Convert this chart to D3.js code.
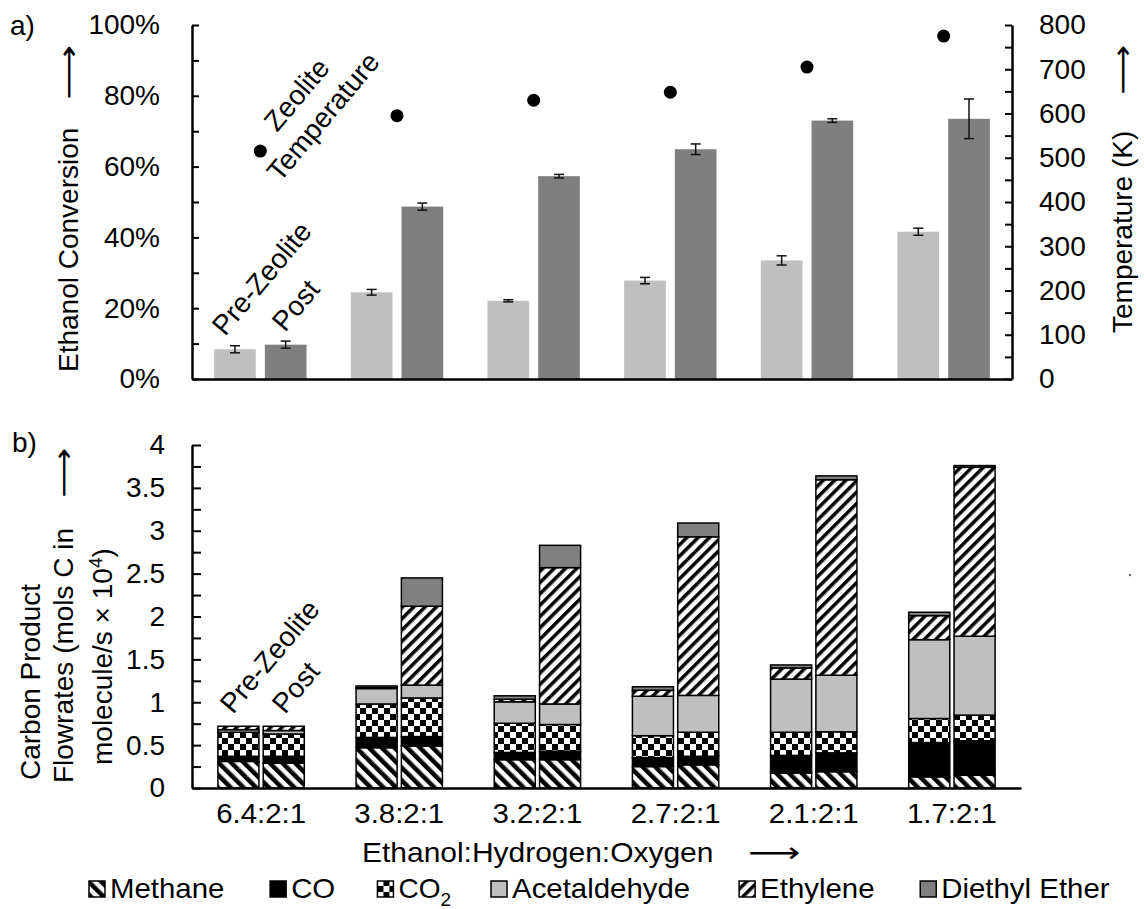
<!DOCTYPE html>
<html>
<head>
<meta charset="utf-8">
<script src="https://cdn.jsdelivr.net/npm/d3@7"></script>
<style>
  body { margin: 0; background: #fff; }
  svg { font-family: 'Liberation Sans', Arial, sans-serif; }
  .arrow { font-family: 'DejaVu Sans', sans-serif; }
</style>
</head>
<body>
<svg id="chart" width="1144" height="909"></svg>
<script>
'use strict';

/* global d3 */

var categories = ['6.4:2:1', '3.8:2:1', '3.2:2:1', '2.7:2:1', '2.1:2:1', '1.7:2:1'];

// a) ethanol conversion (%) and zeolite temperature (K)
var conversionPre = [8.4, 24.5, 22.1, 27.8, 33.5, 41.6];
var conversionPreErr = [1.0, 0.8, 0.3, 0.9, 1.3, 1.0];
var conversionPost = [9.7, 48.7, 57.3, 64.9, 73.0, 73.5];
var conversionPostErr = [1.0, 1.0, 0.5, 1.5, 0.5, 5.6];
var zeoliteTemp = [515, 595, 630, 648, 705, 775];

// b) carbon product flowrates (mols C in molecule/s x 10^4)
var productKeys = ['methane', 'co', 'co2', 'acetaldehyde', 'ethylene', 'dee'];
var productLabels = ['Methane', 'CO', 'CO2', 'Acetaldehyde', 'Ethylene', 'Diethyl Ether'];
var methanePre = [0.31, 0.47, 0.33, 0.25, 0.175, 0.13];
var methanePost = [0.29, 0.49, 0.33, 0.27, 0.19, 0.15];
var coPre = [0.06, 0.12, 0.085, 0.105, 0.205, 0.40];
var coPost = [0.08, 0.11, 0.10, 0.10, 0.22, 0.40];
var co2Pre = [0.28, 0.39, 0.34, 0.255, 0.27, 0.28];
var co2Post = [0.26, 0.45, 0.31, 0.28, 0.245, 0.30];
var acetPre = [0.03, 0.18, 0.25, 0.46, 0.62, 0.92];
var acetPost = [0.04, 0.15, 0.24, 0.43, 0.66, 0.92];
var ethylenePre = [0.04, 0.01, 0.03, 0.07, 0.13, 0.28];
var ethylenePost = [0.05, 0.92, 1.59, 1.85, 2.28, 1.97];
var deePre = [0.0, 0.02, 0.04, 0.04, 0.035, 0.04];
var deePost = [0.0, 0.33, 0.26, 0.16, 0.045, 0.02];

var convTicks = d3.range(0, 101, 10);
var tempTicks = d3.range(0, 801, 50);
var flowTicks = d3.range(0, 4.01, 0.25);

(function () {
  var svg = d3.select('#chart');
  var FS = 28;

  // patterns
  var defs = svg.append('defs');
  var pm = defs.append('pattern').attr('id', 'p-methane').attr('patternUnits', 'userSpaceOnUse')
    .attr('width', 9).attr('height', 9).attr('patternTransform', 'rotate(-45)');
  pm.append('rect').attr('width', 9).attr('height', 9).attr('fill', '#fff');
  pm.append('rect').attr('width', 4.5).attr('height', 9).attr('fill', '#000');

  var pe = defs.append('pattern').attr('id', 'p-ethylene').attr('patternUnits', 'userSpaceOnUse')
    .attr('width', 8).attr('height', 8).attr('patternTransform', 'rotate(45)');
  pe.append('rect').attr('width', 8).attr('height', 8).attr('fill', '#fff');
  pe.append('rect').attr('width', 3.5).attr('height', 8).attr('fill', '#000');

  var pc = defs.append('pattern').attr('id', 'p-co2').attr('patternUnits', 'userSpaceOnUse')
    .attr('width', 12).attr('height', 12);
  pc.append('rect').attr('width', 12).attr('height', 12).attr('fill', '#fff');
  pc.append('rect').attr('width', 6).attr('height', 6).attr('fill', '#000');
  pc.append('rect').attr('x', 6).attr('y', 6).attr('width', 6).attr('height', 6).attr('fill', '#000');

  var fills = {
    methane: 'url(#p-methane)',
    co: '#000',
    co2: 'url(#p-co2)',
    acetaldehyde: '#bfbfbf',
    ethylene: 'url(#p-ethylene)',
    dee: '#808080'
  };

  // the original figure is slightly wider than tall, so horizontal text runs a bit wide
  function widen(sel, k) {
    sel.each(function () {
      var n = this;
      d3.select(n).attr('textLength', n.getComputedTextLength() * k).attr('lengthAdjust', 'spacingAndGlyphs');
    });
  }

  function styleAxis(sel) {
    sel.select('.domain').attr('stroke', '#000').attr('stroke-width', 2.5);
    sel.selectAll('.tick line').attr('stroke', '#000').attr('stroke-width', 2);
    sel.selectAll('.tick text').attr('font-size', FS).attr('font-family', null).attr('fill', '#000');
    sel.attr('font-family', null).attr('font-size', null);
  }

  function arrow(x, y, len, rotate) {
    return svg.append('text').attr('class', 'arrow')
      .attr('transform', 'translate(' + x + ',' + y + ')' + (rotate ? ' rotate(-90)' : ''))
      .attr('font-size', FS).attr('textLength', len).attr('lengthAdjust', 'spacingAndGlyphs')
      .text('\u27F6');
  }

  // ---------- a) ----------
  var xa = d3.scaleBand().domain(categories).range([192, 1012]).paddingInner(0.324).paddingOuter(0.162);
  var xaSub = d3.scaleBand().domain(['pre', 'post']).range([0, xa.bandwidth()]).paddingInner(0.178);
  var ya = d3.scaleLinear().domain([0, 100]).range([379, 25]);
  var yt = d3.scaleLinear().domain([0, 800]).range([379, 25]);

  var convRows = [];
  categories.forEach(function (c, i) {
    convRows.push({ cat: c, phase: 'pre', v: conversionPre[i], e: conversionPreErr[i] });
    convRows.push({ cat: c, phase: 'post', v: conversionPost[i], e: conversionPostErr[i] });
  });

  var ga = svg.append('g');
  ga.append('g').selectAll('rect').data(convRows).enter().append('rect')
    .attr('x', function (d) { return xa(d.cat) + xaSub(d.phase); })
    .attr('width', xaSub.bandwidth())
    .attr('y', function (d) { return ya(d.v); })
    .attr('height', function (d) { return ya(0) - ya(d.v); })
    .attr('fill', function (d) { return d.phase === 'pre' ? '#bfbfbf' : '#7f7f7f'; });

  var eb = ga.append('g').attr('stroke', '#111').attr('stroke-width', 1.5)
    .selectAll('g').data(convRows).enter().append('g')
    .attr('transform', function (d) { return 'translate(' + (xa(d.cat) + xaSub(d.phase) + xaSub.bandwidth() / 2) + ',0)'; });
  eb.append('line').attr('y1', function (d) { return ya(d.v - d.e); }).attr('y2', function (d) { return ya(d.v + d.e); });
  eb.append('line').attr('x1', -5).attr('x2', 5)
    .attr('y1', function (d) { return ya(d.v - d.e); }).attr('y2', function (d) { return ya(d.v - d.e); });
  eb.append('line').attr('x1', -5).attr('x2', 5)
    .attr('y1', function (d) { return ya(d.v + d.e); }).attr('y2', function (d) { return ya(d.v + d.e); });

  ga.append('g').selectAll('circle').data(categories).enter().append('circle')
    .attr('cx', function (d) { return xa(d) + xa.bandwidth() / 2; })
    .attr('cy', function (d, i) { return yt(zeoliteTemp[i]); })
    .attr('r', 6.5).attr('fill', '#000');

  ga.append('g').attr('transform', 'translate(0,379)')
    .call(d3.axisBottom(xa).tickSize(0).tickFormat(''))
    .call(styleAxis);
  ga.append('g').attr('transform', 'translate(192,0)')
    .call(d3.axisLeft(ya).tickValues(convTicks).tickSizeInner(-7).tickSizeOuter(0).tickPadding(32)
      .tickFormat(function (d) { return d % 20 === 0 ? d + '%' : ''; }))
    .call(styleAxis);
  ga.append('g').attr('transform', 'translate(1012,0)')
    .call(d3.axisRight(yt).tickValues(tempTicks).tickSizeInner(-7).tickSizeOuter(0).tickPadding(27)
      .tickFormat(function (d) { return d % 100 === 0 ? d : ''; }))
    .call(styleAxis);

  // annotations a)
  function rotLabel(x, y, txt) {
    svg.append('text').attr('transform', 'translate(' + x + ',' + y + ') rotate(-50)')
      .attr('font-size', FS).text(txt);
  }
  rotLabel(225, 337, 'Pre-Zeolite');
  rotLabel(285, 333, 'Post');
  rotLabel(277, 133, 'Zeolite');
  rotLabel(280, 183, 'Temperature');

  svg.append('text').attr('x', 10).attr('y', 35).attr('font-size', FS).text('a)');
  svg.append('text').attr('transform', 'translate(78,372) rotate(-90)').attr('font-size', FS).text('Ethanol Conversion');
  arrow(78, 100, 55, true);
  svg.append('text').attr('transform', 'translate(1132,333) rotate(-90)').attr('font-size', FS).text('Temperature (K)');
  arrow(1132, 95, 50, true);

  // ---------- b) ----------
  var xb = d3.scaleBand().domain(categories).range([192, 1021]).paddingInner(0.375).paddingOuter(0.1875);
  var xbSub = d3.scaleBand().domain(['pre', 'post']).range([0, xb.bandwidth()]).paddingInner(0.094);
  var yb = d3.scaleLinear().domain([0, 4]).range([788, 445]);

  var stackRows = [];
  categories.forEach(function (c, i) {
    stackRows.push({ cat: c, phase: 'pre', methane: methanePre[i], co: coPre[i], co2: co2Pre[i],
      acetaldehyde: acetPre[i], ethylene: ethylenePre[i], dee: deePre[i] });
    stackRows.push({ cat: c, phase: 'post', methane: methanePost[i], co: coPost[i], co2: co2Post[i],
      acetaldehyde: acetPost[i], ethylene: ethylenePost[i], dee: deePost[i] });
  });
  var series = d3.stack().keys(productKeys)(stackRows);

  var gb = svg.append('g');
  gb.append('g').selectAll('g').data(series).enter().append('g')
    .attr('fill', function (d) { return fills[d.key]; })
    .selectAll('rect').data(function (d) { return d; }).enter().append('rect')
    .attr('x', function (d) { return xb(d.data.cat) + xbSub(d.data.phase); })
    .attr('width', xbSub.bandwidth())
    .attr('y', function (d) { return yb(d[1]); })
    .attr('height', function (d) { return yb(d[0]) - yb(d[1]); })
    .attr('stroke', '#000').attr('stroke-width', 1.5);

  var xAxisB = gb.append('g').attr('transform', 'translate(0,788)')
    .call(d3.axisBottom(xb).tickSize(0).tickPadding(15))
    .call(styleAxis);
  widen(xAxisB.selectAll('.tick text'), 1.05);
  gb.append('g').attr('transform', 'translate(192,0)')
    .call(d3.axisLeft(yb).tickValues(flowTicks).tickSizeInner(-9).tickSizeOuter(0).tickPadding(27)
      .tickFormat(function (d) { return (d * 2) % 1 === 0 ? d3.format('~g')(d) : ''; }))
    .call(styleAxis);

  rotLabel(233, 715, 'Pre-Zeolite');
  rotLabel(285, 715, 'Post');

  svg.append('text').attr('x', 12).attr('y', 452).attr('font-size', FS).text('b)');
  svg.append('text').attr('transform', 'translate(40,780) rotate(-90)').attr('font-size', FS).text('Carbon Product');
  svg.append('text').attr('transform', 'translate(73,783) rotate(-90)').attr('font-size', FS).text('Flowrates (mols C in');
  arrow(73, 498, 50, true);
  var l3 = svg.append('text').attr('transform', 'translate(112,765) rotate(-90)').attr('font-size', FS);
  l3.append('tspan').text('molecule/s \u00D7 10');
  l3.append('tspan').attr('font-size', 19).attr('dy', -10).text('4');
  l3.append('tspan').attr('dy', 10).text(')');

  var xTitle = svg.append('text').attr('x', 362).attr('y', 862).attr('font-size', FS).text('Ethanol:Hydrogen:Oxygen');
  widen(xTitle, 1.07);
  arrow(748, 862, 52, false);

  // stray speck in the original figure
  svg.append('circle').attr('cx', 1130).attr('cy', 575).attr('r', 1.2).attr('fill', '#666');

  // legend
  var lg = svg.append('g').attr('class', 'legend').attr('transform', 'translate(89,898)');
  var lx = 0;
  productKeys.forEach(function (k, i) {
    var item = lg.append('g').attr('transform', 'translate(' + lx + ',0)');
    item.append('rect').attr('x', 0).attr('y', -17).attr('width', 16).attr('height', 16)
      .attr('fill', fills[k]).attr('stroke', '#000').attr('stroke-width', 1.5);
    var t = item.append('text').attr('x', 21).attr('y', 0).attr('font-size', FS);
    var w;
    if (k === 'co2') {
      t.append('tspan').text('CO');
      t.append('tspan').attr('font-size', 19).attr('dy', 8).text('2');
      w = t.node().getComputedTextLength();
    } else {
      t.text(productLabels[i]);
      widen(t, 1.05);
      w = t.node().getComputedTextLength() * 1.05;
    }
    lx += 21 + w + 40;
  });
})();
</script>
</body>
</html>
